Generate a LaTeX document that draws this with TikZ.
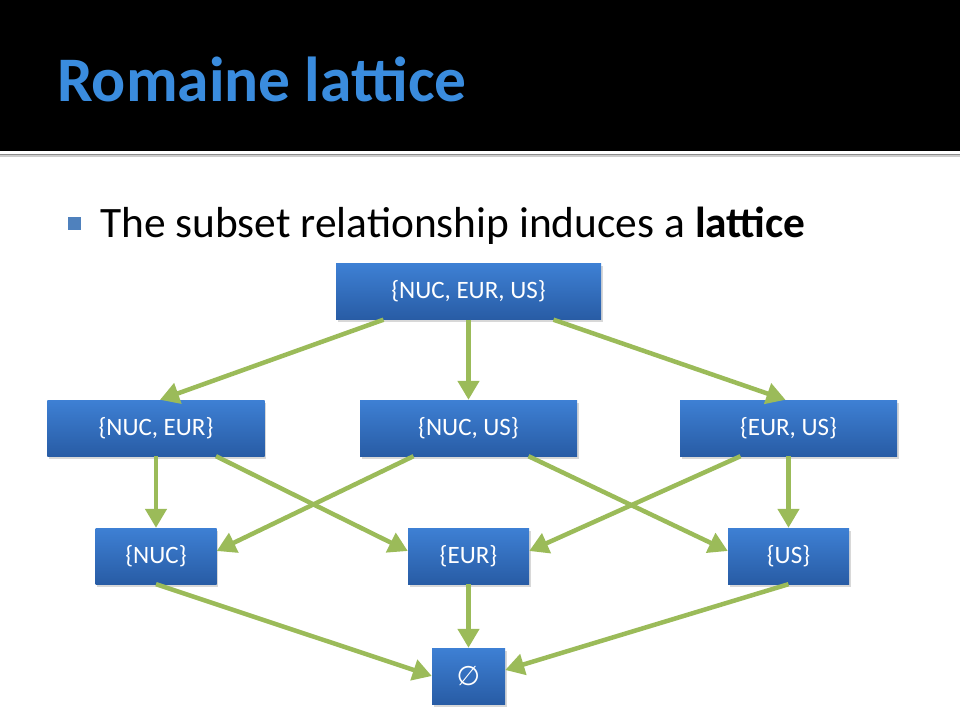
\documentclass[tikz,border=0pt]{standalone}
\usepackage{fontspec}
\setmainfont{Carlito}
\newfontfamily\djv{DejaVu Sans}
\usetikzlibrary{arrows.meta,shadows,calc}
\definecolor{titleblue}{RGB}{58,140,222}
\definecolor{bulletblue}{RGB}{79,129,189}
\definecolor{boxtop}{RGB}{62,128,212}
\definecolor{boxbot}{RGB}{40,92,165}
\definecolor{arrowgreen}{RGB}{155,187,89}
\tikzset{
  setbox/.style={rectangle, inner sep=0pt, minimum height=56bp,
    top color=boxtop, bottom color=boxbot, draw=none, text=white,
    font=\fontsize{25bp}{29bp}\selectfont,
    drop shadow={shadow xshift=1.5bp, shadow yshift=-2.5bp, opacity=0.25, fill=black!60}},
  arr/.style={draw=arrowgreen, line width=4.5bp, -{Triangle[length=19bp,width=21bp]}}
}
\begin{document}
\begin{tikzpicture}[x=1bp,y=-1bp]
  \fill[white] (0,0) rectangle (960,720);
  \useasboundingbox (0,0) rectangle (960,720);
  % header
  \fill[black] (0,0) rectangle (960,151);
  \fill[black!45] (0,154) rectangle (960,155.5);
  \fill[black!20] (0,155.5) rectangle (960,157.5);
  \node[anchor=base west, inner sep=0pt, text=titleblue,
        font=\fontsize{63.5bp}{70bp}\selectfont\bfseries] (title) at (57,102) {Romaine lattice};
  % bullet
  \fill[bulletblue] (68,217) rectangle (81,230);
  \node[anchor=base west, inner sep=0pt, font=\fontsize{43.4bp}{50bp}\selectfont] (bullet) at (100,237)
    {The subset relationship induces a \textbf{lattice}};
  % nodes
  \node[setbox, minimum width=265bp] (top) at (468.5,291.5) {\{NUC, EUR, US\}};
  \node[setbox, minimum width=217bp] (ne) at (156,428) {\{NUC, EUR\}};
  \node[setbox, minimum width=217bp] (nu) at (468.5,428) {\{NUC, US\}};
  \node[setbox, minimum width=217bp] (eu) at (788.5,428) {\{EUR, US\}};
  \node[setbox, minimum width=121bp] (n) at (156,556) {\{NUC\}};
  \node[setbox, minimum width=121bp] (e) at (468.5,556) {\{EUR\}};
  \node[setbox, minimum width=121bp] (u) at (788.5,556) {\{US\}};
  \node[setbox, minimum width=73bp] (empty) at (468.5,676) {\djv\fontsize{27bp}{30bp}\selectfont ∅};
  % connectors
  \draw[arr] ([xshift=-85bp]top.south) -- ([xshift=4bp]ne.north);
  \draw[arr] (top.south) -- (nu.north);
  \draw[arr] ([xshift=85bp]top.south) -- ([xshift=-3bp]eu.north);
  \draw[arr] (ne.south) -- (n.north);
  \draw[arr] ([xshift=60bp]ne.south) -- ([yshift=5bp]e.west);
  \draw[arr] ([xshift=-55bp]nu.south) -- ([yshift=5bp]n.east);
  \draw[arr] ([xshift=60bp]nu.south) -- ([yshift=5bp]u.west);
  \draw[arr] ([xshift=-48bp]eu.south) -- ([yshift=5bp]e.east);
  \draw[arr] (eu.south) -- (u.north);
  \draw[arr] (n.south) -- (empty.west);
  \draw[arr] (e.south) -- (empty.north);
  \draw[arr] (u.south) -- ([yshift=6bp]empty.east);
\end{tikzpicture}
\end{document}
